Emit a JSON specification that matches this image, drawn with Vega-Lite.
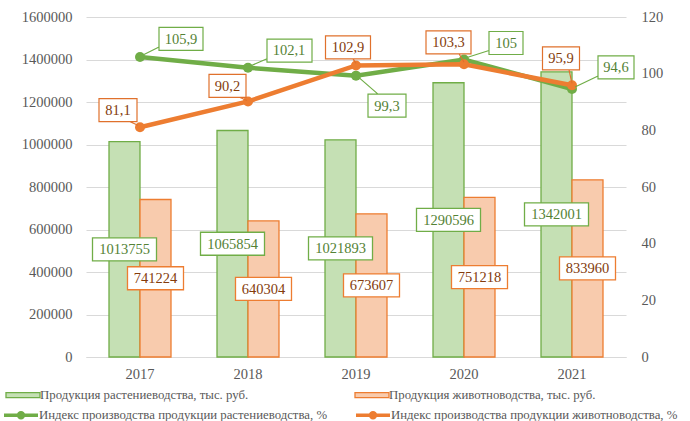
{
  "$schema": "https://vega.github.io/schema/vega-lite/v6.json",
  "width": 540,
  "height": 340,
  "autosize": {"type": "none"},
  "padding": {"left": 86, "top": 17, "right": 64, "bottom": 64},
  "config": {
    "view": {"stroke": null},
    "font": "Liberation Serif, Times New Roman, serif",
    "locale": {"number": {"decimal": ",", "thousands": "", "grouping": [3], "currency": ["", ""]}},
    "legend": {
      "title": null, "orient": "none",
      "direction": "horizontal", "columns": 2, "rowPadding": 0,
      "symbolSize": 196, "labelOffset": 9, "symbolOpacity": 1,
      "labelFont": "Liberation Serif, Times New Roman, serif", "labelFontSize": 12.8, "labelColor": "#595959", "labelLimit": 400
    }
  },
  "datasets": {
    "bars": [
      {"year": "2017", "series": "Продукция растениеводства, тыс. руб.", "value": 1013755},
      {"year": "2017", "series": "Продукция животноводства, тыс. руб.", "value": 741224},
      {"year": "2018", "series": "Продукция растениеводства, тыс. руб.", "value": 1065854},
      {"year": "2018", "series": "Продукция животноводства, тыс. руб.", "value": 640304},
      {"year": "2019", "series": "Продукция растениеводства, тыс. руб.", "value": 1021893},
      {"year": "2019", "series": "Продукция животноводства, тыс. руб.", "value": 673607},
      {"year": "2020", "series": "Продукция растениеводства, тыс. руб.", "value": 1290596},
      {"year": "2020", "series": "Продукция животноводства, тыс. руб.", "value": 751218},
      {"year": "2021", "series": "Продукция растениеводства, тыс. руб.", "value": 1342001},
      {"year": "2021", "series": "Продукция животноводства, тыс. руб.", "value": 833960}
    ],
    "idx": [
      {"year": "2017", "series": "Индекс производства продукции растениеводства, %", "value": 105.9},
      {"year": "2018", "series": "Индекс производства продукции растениеводства, %", "value": 102.1},
      {"year": "2019", "series": "Индекс производства продукции растениеводства, %", "value": 99.3},
      {"year": "2020", "series": "Индекс производства продукции растениеводства, %", "value": 105},
      {"year": "2021", "series": "Индекс производства продукции растениеводства, %", "value": 94.6},
      {"year": "2017", "series": "Индекс производства продукции животноводства, %", "value": 81.1},
      {"year": "2018", "series": "Индекс производства продукции животноводства, %", "value": 90.2},
      {"year": "2019", "series": "Индекс производства продукции животноводства, %", "value": 102.9},
      {"year": "2020", "series": "Индекс производства продукции животноводства, %", "value": 103.3},
      {"year": "2021", "series": "Индекс производства продукции животноводства, %", "value": 95.9}
    ]
  },
  "encoding": {
    "x": {
      "field": "year", "type": "nominal",
      "scale": {"paddingInner": 0.426, "paddingOuter": 0.213},
      "axis": {"title": null, "labelAngle": 0, "ticks": false, "domainColor": "#D9D9D9", "domainWidth": 1, "labelFont": "Liberation Serif, Times New Roman, serif", "labelFontSize": 14.5, "labelColor": "#595959", "labelPadding": 10}
    }
  },
  "layer": [
    {
      "data": {"name": "bars"},
      "mark": {"type": "bar", "strokeWidth": 1.3, "opacity": 1},
      "encoding": {
        "xOffset": {"field": "series", "type": "nominal", "scale": {"domain": ["Продукция растениеводства, тыс. руб.", "Продукция животноводства, тыс. руб."], "paddingInner": 0, "paddingOuter": 0}},
        "y": {
          "field": "value", "type": "quantitative",
          "scale": {"domain": [0, 1600000], "nice": false},
          "axis": {"orient": "left", "title": null, "values": [0, 200000, 400000, 600000, 800000, 1000000, 1200000, 1400000, 1600000], "format": "d", "domain": false, "ticks": false, "grid": true, "gridColor": "#D9D9D9", "gridWidth": 1, "labelFont": "Liberation Serif, Times New Roman, serif", "labelFontSize": 14.5, "labelColor": "#595959", "labelPadding": 14}
        },
        "fill": {
          "field": "series", "type": "nominal",
          "scale": {"domain": ["Продукция растениеводства, тыс. руб.", "Продукция животноводства, тыс. руб."], "range": ["#C5E0B4", "#F8CBAD"]},
          "legend": {"legendX": -71, "legendY": 370, "columnPadding": 103, "symbolType": "M-2.43,-0.36H2.43V0.36H-2.43Z", "symbolStrokeWidth": 1.3}
        },
        "stroke": {
          "field": "series", "type": "nominal",
          "scale": {"domain": ["Продукция растениеводства, тыс. руб.", "Продукция животноводства, тыс. руб."], "range": ["#70AD47", "#ED7D31"]},
          "legend": {"legendX": -71, "legendY": 370, "columnPadding": 103, "symbolType": "M-2.43,-0.36H2.43V0.36H-2.43Z", "symbolStrokeWidth": 1.3}
        }
      }
    },
    {
      "data": {"name": "bars"},
      "encoding": {
        "xOffset": {"field": "series", "type": "nominal"},
        "y": {"field": "value", "type": "quantitative", "scale": {"domain": [0, 3200000], "nice": false}, "axis": null}
      },
      "layer": [
        {
          "mark": {"type": "point", "filled": true, "fill": "white", "size": 4, "strokeWidth": 1.3, "opacity": 1},
          "encoding": {
            "shape": {
              "condition": {"test": "indexof(datum.series, 'растение') >= 0", "value": "M-32,-11.5H32V11.5H-32Z"},
              "value": "M-28,-11.5H28V11.5H-28Z"
            },
            "stroke": {
              "condition": {"test": "indexof(datum.series, 'растение') >= 0", "value": "#70AD47"},
              "value": "#ED7D31"
            }
          }
        },
        {
          "mark": {"type": "text", "font": "Liberation Serif, Times New Roman, serif", "fontSize": 14.5, "align": "center", "baseline": "middle", "dy": 1},
          "encoding": {
            "text": {"field": "value", "type": "quantitative", "format": "d"},
            "color": {
              "condition": {"test": "indexof(datum.series, 'растение') >= 0", "value": "#548235"},
              "value": "#843C0C"
            }
          }
        }
      ]
    },
    {
      "data": {"name": "idx"},
      "encoding": {
        "y": {
          "field": "value", "type": "quantitative",
          "scale": {"domain": [0, 120], "nice": false},
          "axis": {"orient": "right", "title": null, "values": [0, 20, 40, 60, 80, 100, 120], "domain": false, "ticks": false, "grid": false, "labelFont": "Liberation Serif, Times New Roman, serif", "labelFontSize": 14.5, "labelColor": "#595959", "labelPadding": 15}
        }
      },
      "layer": [
        {
          "mark": {"type": "line", "strokeWidth": 4.5, "point": {"filled": true, "size": 100, "opacity": 1}},
          "encoding": {
            "color": {
              "field": "series", "type": "nominal",
              "scale": {"domain": ["Индекс производства продукции растениеводства, %", "Индекс производства продукции животноводства, %"], "range": ["#70AD47", "#ED7D31"]},
              "legend": {"legendX": -74, "legendY": 389, "columnPadding": 20, "symbolType": "M-2.43,0H2.43M0.35,0A0.35,0.35 0 1,1 -0.35,0A0.35,0.35 0 1,1 0.35,0Z", "symbolStrokeWidth": 3.5}
            }
          }
        },
        {
          "transform": [{"filter": "indexof(datum.series, 'растение') >= 0"}],
          "layer": [
            {
              "mark": {"type": "point", "filled": true, "fill": "white", "stroke": "#70AD47", "size": 4, "strokeWidth": 1.2, "opacity": 1},
              "encoding": {
                "shape": {
                  "condition": [
                    {"test": "datum.year === '2017'", "value": "M19,-29.5H63V-6.5H19Z M3,-2L19,-10"},
                    {"test": "datum.year === '2018'", "value": "M19,-28.5H64V-5.5H19Z M3,-2L19,-9"},
                    {"test": "datum.year === '2019'", "value": "M12,18.5H50V41.5H12Z M3,2L22,18.5"},
                    {"test": "datum.year === '2020'", "value": "M25,-28H59V-5H25Z M3,-2L25,-9"}
                  ],
                  "value": "M26,-33H62V-10H26Z M3,-2L26,-13"
                }
              }
            },
            {
              "mark": {"type": "text", "font": "Liberation Serif, Times New Roman, serif", "fontSize": 14.5, "align": "center", "baseline": "middle", "color": "#548235",
                "dx": {"expr": "datum.year === '2019' ? 31 : datum.year === '2021' ? 44 : datum.year === '2020' ? 42 : 41"},
                "dy": {"expr": "datum.year === '2019' ? 31 : datum.year === '2021' ? -20.5 : datum.year === '2020' ? -15.5 : -17"}},
              "encoding": {
                "text": {"field": "value", "type": "quantitative", "format": ".1~f"}
              }
            }
          ]
        },
        {
          "transform": [{"filter": "indexof(datum.series, 'живот') >= 0"}],
          "layer": [
            {
              "mark": {"type": "point", "filled": true, "fill": "white", "stroke": "#E0712C", "size": 4, "strokeWidth": 1.2, "opacity": 1},
              "encoding": {
                "shape": {
                  "condition": [
                    {"test": "datum.year === '2017'", "value": "M-41,-28.5H-3V-5.5H-41Z M-2,-2L-10,-5.5"},
                    {"test": "datum.year === '2018'", "value": "M-39,-27H-2V-4H-39Z M-1,-1L-8,-4"},
                    {"test": "datum.year === '2019'", "value": "M-30.5,-29.5H14.5V-6.5H-30.5Z M0,-2L-3,-6.5"},
                    {"test": "datum.year === '2020'", "value": "M-38,-33.5H7V-10.5H-38Z M0,-2L-5,-10.5"}
                  ],
                  "value": "M-29.5,-38.5H7.5V-15.5H-29.5Z M0,-2L-3,-15.5"
                }
              }
            },
            {
              "mark": {"type": "text", "font": "Liberation Serif, Times New Roman, serif", "fontSize": 14.5, "align": "center", "baseline": "middle", "color": "#843C0C",
                "dx": {"expr": "datum.year === '2017' ? -22 : datum.year === '2018' ? -20.5 : datum.year === '2019' ? -8 : datum.year === '2020' ? -15.5 : -11"},
                "dy": {"expr": "datum.year === '2017' ? -16 : datum.year === '2018' ? -14.5 : datum.year === '2019' ? -17 : datum.year === '2020' ? -21 : -26"}},
              "encoding": {
                "text": {"field": "value", "type": "quantitative", "format": ".1~f"}
              }
            }
          ]
        }
      ]
    }
  ],
  "resolve": {"scale": {"y": "independent"}}
}
